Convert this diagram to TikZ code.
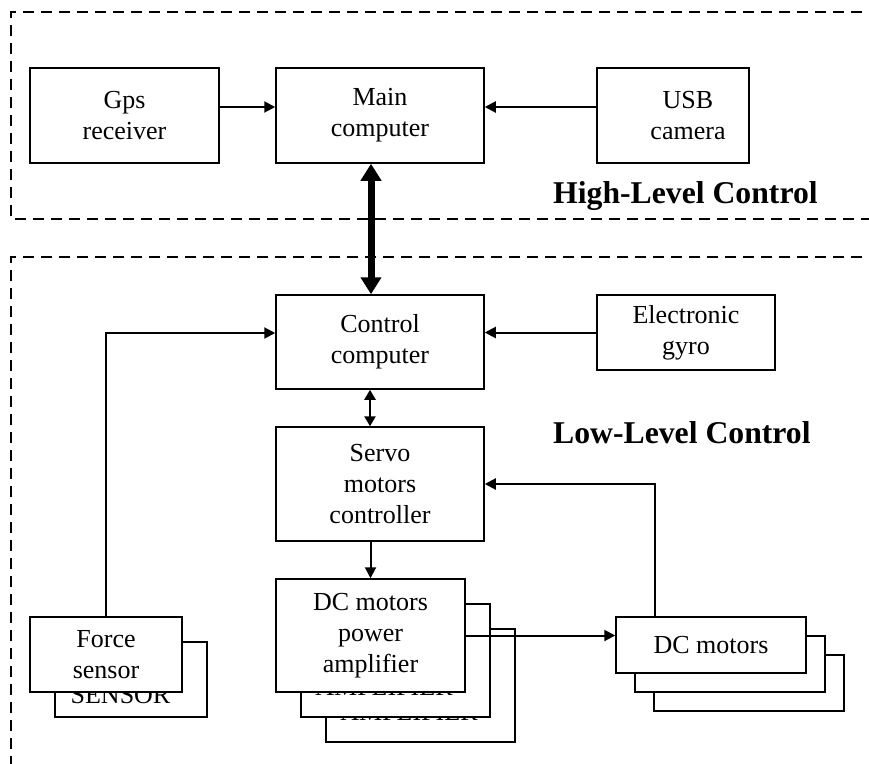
\documentclass[tikz,border=0pt]{standalone}
\usepackage{fontspec}
\setmainfont{Liberation Serif}
\usetikzlibrary{arrows.meta}

\tikzset{
  block/.style={draw, line width=1.5pt, fill=white, align=center, inner sep=0pt,
    font=\fontsize{26}{31}\selectfont},
  hidden/.style={anchor=base, font=\fontsize{26}{31}\selectfont},
  region/.style={line width=1.6pt, dash pattern=on 11pt off 7pt},
  link/.style={line width=2pt, -{Triangle[length=11pt,width=11pt]}},
  levellabel/.style={anchor=base west, inner sep=0pt, font=\fontsize{31.7}{38}\selectfont\bfseries},
}

\begin{document}
\begin{tikzpicture}[x=1pt,y=-1pt]
  \useasboundingbox (0,0) rectangle (869,763);
  % control levels
  \draw[region] (880,12) -- (11,12) -- (11,219) -- (880,219);
  \draw[region] (880,257) -- (11,257) -- (11,775);
  \node[levellabel] (highlabel) at (553,203) {High-Level Control};
  \node[levellabel] (lowlabel) at (553,443) {Low-Level Control};

  % high level
  \node[block, minimum width=189pt, minimum height=95pt] (gps) at (124.5,115.5) {Gps\\receiver};
  \node[block, minimum width=208pt, minimum height=95pt] (main) at (380,115.5) {Main\\computer};
  \node[block, minimum width=152pt, minimum height=95pt] (usb) at (673,115.5) {\hspace*{30pt}USB\\\hspace*{30pt}camera};

  % low level
  \node[block, minimum width=208pt, minimum height=94pt] (control) at (380,342) {Control\\computer};
  \node[block, minimum width=178pt, minimum height=75pt] (gyro) at (686,332.5) {Electronic\\gyro};
  \node[block, minimum width=208pt, minimum height=114pt] (servo) at (380,484) {Servo\\motors\\controller};

  % stacked blocks
  \node[block, minimum width=152pt, minimum height=75pt] (forceback) at (131,679.5) {};
  \node[hidden] (forcetext) at (120.5,703) {SENSOR};
  \node[block, minimum width=152pt, minimum height=75pt] (force) at (106,654.5) {Force\\sensor};

  \foreach \k/\tx in {2/409,1/384} {
    \node[block, minimum width=189pt, minimum height=113pt] (amp\k) at (370.5+25*\k,635.5+25*\k) {};
    \node[hidden] (amptext\k) at (\tx,695+25*\k-25) {AMPLIFIER};
  }
  \node[block, minimum width=189pt, minimum height=113pt] (amp) at (370.5,635.5) {DC motors\\power\\amplifier};

  \foreach \k in {2,1}
    \node[block, minimum width=190pt, minimum height=56pt] (dcm\k) at (711+19*\k,645+19*\k) {};
  \node[block, minimum width=190pt, minimum height=56pt] (dcm) at (711,645) {DC motors};

  % connections
  \draw[link] ([yshift=8.5pt]gps.east) -- ([yshift=8.5pt]main.west);
  \draw[link] ([yshift=8.5pt]usb.west) -- ([yshift=8.5pt]main.east);
  \draw[line width=7pt, {Triangle[length=17pt,width=20pt]}-{Triangle[length=17pt,width=20pt]}]
    ([xshift=-9pt]main.south) -- ([xshift=-9pt]control.north);
  \draw[link] (gyro.west) -- (control.east |- gyro.west);
  \draw[link] (force.north) |- ([yshift=9pt]control.west);
  \draw[line width=2.5pt, {Triangle[length=10pt,width=11pt]}-{Triangle[length=10pt,width=11pt]}]
    ([xshift=-10pt]control.south) -- ([xshift=-10pt]servo.north);
  \draw[link] (servo.south -| amp.north) -- (amp.north);
  \draw[link] (amp.east) -- (amp.east -| dcm.west);
  \draw[link] ([xshift=-56pt]dcm.north) |- (servo.east);
\end{tikzpicture}
\end{document}
